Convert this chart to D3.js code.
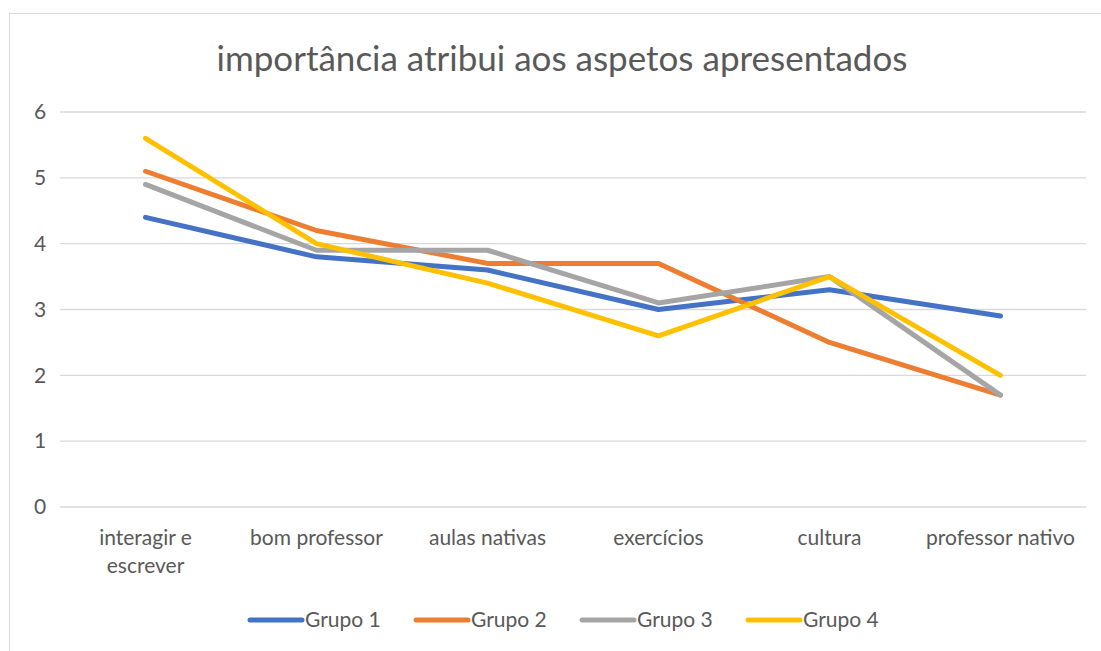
<!DOCTYPE html>
<html>
<head>
<meta charset="utf-8">
<script src="https://cdn.jsdelivr.net/npm/d3@7"></script>
<style>
  body { margin: 0; background: #fff; }
  text { font-family: Lato, "Open Sans", sans-serif; fill: #595959; }
</style>
</head>
<body>
<div id="chart"></div>
<script>
// Data
var categories = ["interagir e escrever", "bom professor", "aulas nativas", "exercícios", "cultura", "professor nativo"];
var seriesNames = ["Grupo 1", "Grupo 2", "Grupo 3", "Grupo 4"];
var grupo1 = [4.4, 3.8, 3.6, 3.0, 3.3, 2.9];
var grupo2 = [5.1, 4.2, 3.7, 3.7, 2.5, 1.7];
var grupo3 = [4.9, 3.9, 3.9, 3.1, 3.5, 1.7];
var grupo4 = [5.6, 4.0, 3.4, 2.6, 3.5, 2.0];
var yTicks = [0, 1, 2, 3, 4, 5, 6];
var colors = ["#4472C4", "#ED7D31", "#A5A5A5", "#FFC000"];

var allSeries = [grupo1, grupo2, grupo3, grupo4];

const W = 1101, H = 651;
const margin = { top: 112, right: 15, bottom: 144, left: 60 },
    width = W - margin.left - margin.right,
    height = H - margin.top - margin.bottom;

var svg = d3.select("#chart").append("svg")
    .attr("width", W)
    .attr("height", H);

// outer chart frame
svg.append("rect")
    .attr("x", 9.5).attr("y", 13.5)
    .attr("width", W + 20).attr("height", H + 20)
    .attr("fill", "none")
    .attr("stroke", "#d9d9d9")
    .attr("stroke-width", 1);

var g = svg.append("g")
    .attr("transform", "translate(" + margin.left + "," + margin.top + ")");

var x = d3.scaleBand().domain(categories).range([0, width]);
var y = d3.scaleLinear().domain([0, 6]).range([height, 0]);

// gridlines
g.selectAll(".grid")
    .data(yTicks)
    .enter().append("line")
    .attr("x1", 0).attr("x2", width)
    .attr("y1", d => y(d)).attr("y2", d => y(d))
    .attr("stroke", "#d9d9d9")
    .attr("stroke-width", 1.3);

// y axis labels
var yAxis = d3.axisLeft(y).tickValues(yTicks).tickFormat(d3.format("d")).tickSize(0).tickPadding(20);
g.append("g").call(yAxis)
    .call(s => s.select(".domain").remove())
    .selectAll("text")
    .style("font-size", "21px")
    .attr("text-anchor", "middle");

// x axis labels
var xAxis = d3.axisBottom(x).tickSize(0).tickPadding(23);
var xg = g.append("g")
    .attr("transform", "translate(0," + height + ")")
    .call(xAxis);
xg.select(".domain").remove();
xg.selectAll("text")
    .style("font-size", "21px")
    .each(function(d) {
        var t = d3.select(this);
        if (d === "interagir e escrever") {
            t.text(null);
            t.append("tspan").attr("x", 0).attr("dy", "0.71em").text("interagir e");
            t.append("tspan").attr("x", 0).attr("dy", "1.33em").text("escrever");
            t.attr("dy", null);
        }
    });

// lines
var line = d3.line()
    .x((d, i) => x(categories[i]) + x.bandwidth() / 2)
    .y(d => y(d));

g.selectAll(".series")
    .data(allSeries)
    .enter().append("path")
    .attr("d", d => line(d))
    .attr("fill", "none")
    .attr("stroke", (d, i) => colors[i])
    .attr("stroke-width", 5)
    .attr("stroke-linecap", "round")
    .attr("stroke-linejoin", "round");

// title
svg.append("text")
    .attr("x", 562)
    .attr("y", 71)
    .attr("text-anchor", "middle")
    .style("font-size", "35px")
    .text("importância atribui aos aspetos apresentados");

// legend
var legendX = [248, 414, 580, 746];
var legend = svg.selectAll(".legend")
    .data(seriesNames)
    .enter().append("g")
    .attr("transform", (d, i) => "translate(" + legendX[i] + ",620)");
legend.append("line")
    .attr("x1", 2).attr("x2", 54)
    .attr("stroke", (d, i) => colors[i])
    .attr("stroke-width", 5)
    .attr("stroke-linecap", "round");
legend.append("text")
    .attr("x", 57)
    .attr("dy", "0.35em")
    .style("font-size", "21px")
    .text(d => d);
</script>
</body>
</html>
